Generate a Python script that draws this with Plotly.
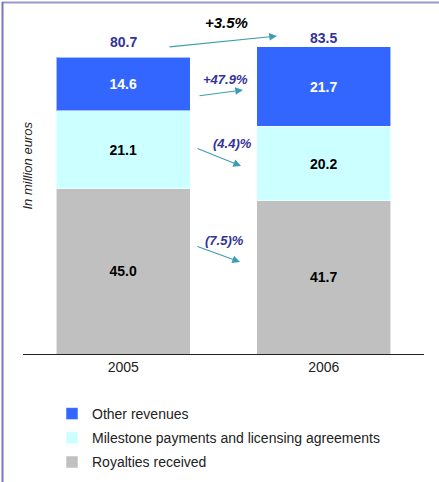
import plotly.graph_objects as go

# ---- data ----
years = ["2005", "2006"]
series_names = ["Royalties received", "Milestone payments and licensing agreements", "Other revenues"]
royalties = [45.0, 41.7]
milestones = [21.1, 20.2]
other = [14.6, 21.7]
totals = [80.7, 83.5]
growth_total = "+3.5%"
growth_labels = ["(7.5)%", "(4.4)%", "+47.9%"]  # royalties, milestones, other

# ---- styling / geometry ----
W, H = 439, 482
ML, MR, MT, MB = 23, 15, 20, 128
PW, PH = W - ML - MR, H - MT - MB
YMAX = 90.84
FONT = "Liberation Sans, Arial, sans-serif"
colors = ["#C0C0C0", "#CCFFFF", "#3366FF"]
text_colors = ["#000000", "#000000", "#FFFFFF"]
legend_ranks = [3, 2, 1]
ARROW = "#3D9DB3"
NAVY = "#333399"

def xd(px):
    return (px - ML) / PW * 2.0 - 0.5

def yd(py):
    return (H - MB - py) / PH * YMAX

xs = list(range(len(years)))
fig = go.Figure()
for name, vals, c, tc, rk in zip(series_names, [royalties, milestones, other], colors, text_colors, legend_ranks):
    fig.add_trace(go.Bar(
        x=xs, y=vals, name=name,
        marker=dict(color=c, line=dict(color="rgba(255,255,255,0.55)", width=1)),
        width=0.67,
        texttemplate="<b>%{y:.1f}</b>", textposition="inside", insidetextanchor="middle",
        textfont=dict(color=tc, size=14, family=FONT),
        legendgroup=name, legendrank=rk,
    ))

ann = []
# totals
for i, (t, py) in enumerate(zip(totals, [42, 38])):
    ann.append(dict(x=i, y=yd(py), text=f"<b>{t:.1f}</b>", showarrow=False,
                    font=dict(color=NAVY, size=14, family=FONT)))
# growth labels
ann.append(dict(x=xd(226), y=yd(22), text=f"<b><i>{growth_total}</i></b>", showarrow=False,
                font=dict(color="#000000", size=15, family=FONT)))
for lab, (px, py) in zip(growth_labels, [(224, 240), (232, 143), (225, 79)]):
    ann.append(dict(x=xd(px), y=yd(py), text=f"<b><i>{lab}</i></b>", showarrow=False,
                    font=dict(color=NAVY, size=13, family=FONT)))
# arrows
for (x0, y0, x1, y1) in [(168, 47, 277, 36), (198, 96, 243, 90), (196, 148, 241, 166), (196, 246, 240, 262)]:
    ann.append(dict(x=xd(x1), y=yd(y1), ax=xd(x0), ay=yd(y0), axref="x", ayref="y",
                    xref="x", yref="y", text="", showarrow=True,
                    arrowhead=2, arrowsize=1.4, arrowwidth=1.1, arrowcolor=ARROW))
# y title
ann.append(dict(xref="paper", yref="paper", x=(17 - ML) / PW, y=(H - MB - 166) / PH,
                text="<i>In million euros</i>", textangle=-90, showarrow=False,
                font=dict(size=13, color="#222222", family=FONT)))

shapes = [
    dict(type="line", xref="paper", yref="paper",
         x0=(2 - ML) / PW, x1=(W - ML) / PW, y0=(H - MB - 2.5) / PH, y1=(H - MB - 2.5) / PH,
         line=dict(color="#9999CC", width=2)),
    dict(type="line", xref="paper", yref="paper",
         x0=(2.5 - ML) / PW, x1=(2.5 - ML) / PW, y0=(H - MB - 2) / PH, y1=(H - MB - H) / PH,
         line=dict(color="#7777BB", width=2)),
]

fig.update_layout(
    width=W, height=H, autosize=False,
    margin=dict(l=ML, r=MR, t=MT, b=MB, autoexpand=False),
    barmode="stack",
    plot_bgcolor="white", paper_bgcolor="white",
    font=dict(family=FONT, size=13, color="#222222"),
    xaxis=dict(range=[-0.5, 1.5], tickmode="array", tickvals=xs, ticktext=years,
               showline=True, linecolor="#222222", linewidth=1.3, showgrid=False,
               zeroline=False, ticks="", tickfont=dict(size=14, color="#222222"),
               automargin=False),
    yaxis=dict(range=[0, YMAX], visible=False, automargin=False),
    legend=dict(orientation="v", traceorder="grouped", tracegroupgap=3,
                x=(52 - ML) / PW, xanchor="left", y=(H - MB - 398) / PH, yanchor="top",
                font=dict(size=14, color="#222222", family=FONT),
                bgcolor="rgba(0,0,0,0)"),
    annotations=ann, shapes=shapes,
    showlegend=True,
)
fig.write_html("out.html", config={"displayModeBar": False},
               post_script="document.body.style.margin='0';document.body.style.padding='0';")
